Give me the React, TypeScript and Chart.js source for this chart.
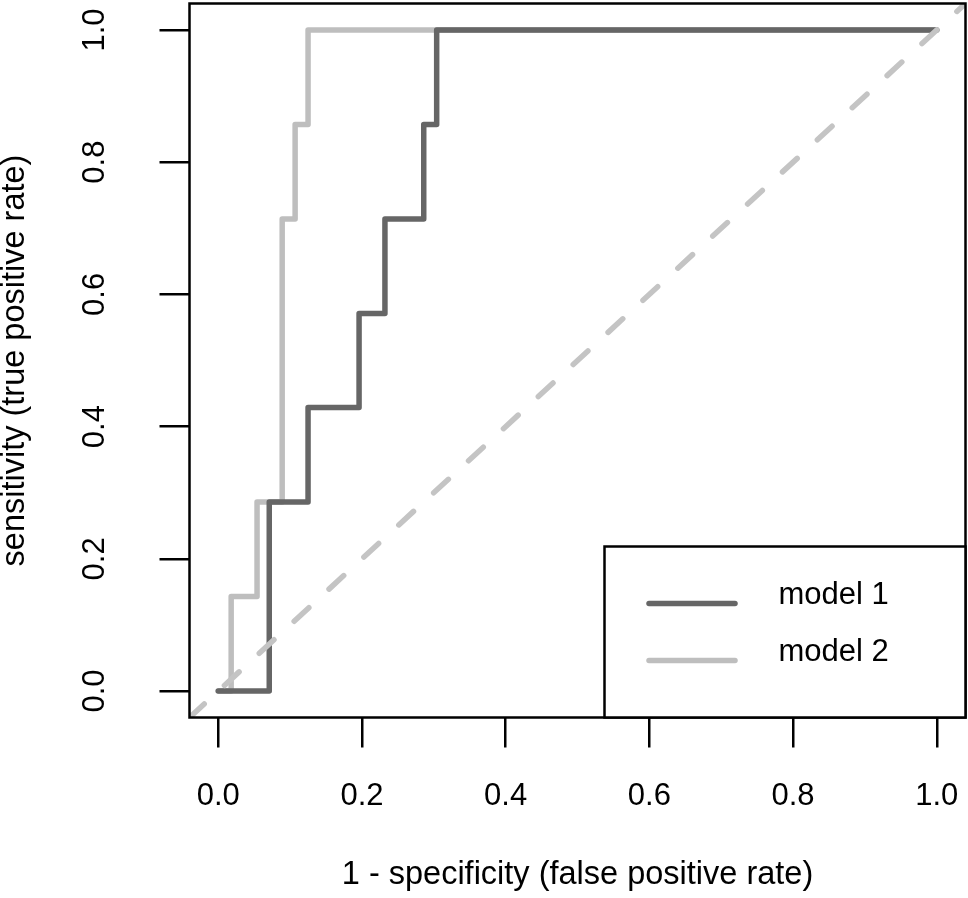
import { useEffect, useRef } from 'react';
import { Chart, registerables } from 'chart.js';

Chart.register(...registerables);

// ---- data ----
const SERIES_NAMES = ['model 1', 'model 2'];
const SERIES_COLORS = ['#666666', '#bebebe'];
const DIAG_COLOR = '#c4c4c4';

// ROC vertices (false positive rate, true positive rate)
const FPR_MODEL_1 = [0, 0.071, 0.125, 0.196, 0.232, 0.286, 0.304, 1.0];
const TPR_MODEL_1 = [0, 0.286, 0.429, 0.571, 0.714, 0.857, 1.0, 1.0];
const FPR_MODEL_2 = [0, 0.018, 0.054, 0.089, 0.107, 0.125, 1.0];
const TPR_MODEL_2 = [0, 0.143, 0.286, 0.714, 0.857, 1.0, 1.0];

const AXIS_MIN = -0.04;
const AXIS_MAX = 1.04;
const TICK_VALUES = [0, 0.2, 0.4, 0.6, 0.8, 1.0];
const TICK_LABELS = ['0.0', '0.2', '0.4', '0.6', '0.8', '1.0'];

const X_TITLE = '1 - specificity (false positive rate)';
const Y_TITLE = 'sensitivity (true positive rate)';

const FONT = 'Liberation Sans';
const FONT_SIZE = 31;
const TITLE_SIZE = 32.5;
const LINE_W = 5.5;

const toPoints = (xs: number[], ys: number[]) => xs.map((x, i) => ({ x, y: ys[i] }));

export default function App() {
  const ref = useRef<HTMLCanvasElement>(null);

  useEffect(() => {
    const canvas = ref.current;
    if (!canvas) return;

    const boxLegendPlugin = {
      id: 'rBoxLegend',
      afterDraw(chart: any) {
        const { ctx, chartArea: a } = chart;
        ctx.save();
        ctx.strokeStyle = '#000';
        ctx.lineWidth = 2.5;
        ctx.strokeRect(a.left, a.top, a.right - a.left, a.bottom - a.top);

        // legend (bottom right)
        const lw = 361;
        const lh = 171;
        const lx = a.right - lw;
        const ly = a.bottom - lh;
        ctx.fillStyle = '#fff';
        ctx.fillRect(lx, ly, lw, lh);
        ctx.strokeRect(lx, ly, lw, lh);
        ctx.font = `${FONT_SIZE}px "${FONT}"`;
        ctx.textAlign = 'left';
        ctx.textBaseline = 'middle';
        SERIES_NAMES.forEach((name, i) => {
          const ds = chart.data.datasets[i];
          const y = ly + 57 + i * 57;
          ctx.strokeStyle = ds.borderColor;
          ctx.lineWidth = LINE_W;
          ctx.lineCap = 'round';
          ctx.beginPath();
          ctx.moveTo(lx + 44.5, y);
          ctx.lineTo(lx + 130.5, y);
          ctx.stroke();
          ctx.fillStyle = '#000';
          ctx.fillText(name, lx + 174, y - 8);
        });
        ctx.restore();
      },
    };

    const tickCfg = {
      color: '#000',
      font: { family: FONT, size: FONT_SIZE },
      callback: (_v: any, i: number) => TICK_LABELS[i],
    };
    const gridCfg = {
      drawOnChartArea: false,
      drawTicks: true,
      tickLength: 30,
      lineWidth: 2.5,
      color: '#000',
    };

    const chart = new Chart(canvas, {
      type: 'line',
      data: {
        datasets: [
          {
            label: SERIES_NAMES[0],
            data: toPoints(FPR_MODEL_1, TPR_MODEL_1),
            borderColor: SERIES_COLORS[0],
            borderWidth: LINE_W,
            stepped: 'before',
            pointRadius: 0,
            borderCapStyle: 'round',
            borderJoinStyle: 'round',
            order: 1,
          },
          {
            label: SERIES_NAMES[1],
            data: toPoints(FPR_MODEL_2, TPR_MODEL_2),
            borderColor: SERIES_COLORS[1],
            borderWidth: LINE_W,
            stepped: 'before',
            pointRadius: 0,
            borderCapStyle: 'round',
            borderJoinStyle: 'round',
            order: 2,
          },
          {
            label: 'chance',
            data: toPoints([AXIS_MIN, AXIS_MAX], [AXIS_MIN, AXIS_MAX]),
            borderColor: DIAG_COLOR,
            borderWidth: LINE_W,
            borderDash: [20, 27.4],
            borderCapStyle: 'round',
            pointRadius: 0,
            order: 0,
          },
        ],
      },
      options: {
        animation: false,
        responsive: false,
        devicePixelRatio: 1,
        layout: { padding: { top: 3.5, right: 2.5, left: 0, bottom: 0 }, autoPadding: false },
        plugins: { legend: { display: false }, tooltip: { enabled: false } },
        scales: {
          x: {
            type: 'linear',
            min: AXIS_MIN,
            max: AXIS_MAX,
            afterBuildTicks: (s: any) => {
              s.ticks = TICK_VALUES.map((v) => ({ value: v }));
            },
            afterFit: (s: any) => {
              s.height = 180.5;
              s.paddingLeft = 0;
              s.paddingRight = 0;
            },
            ticks: { ...tickCfg, padding: 30, maxRotation: 0, minRotation: 0, autoSkip: false },
            grid: gridCfg,
            border: { display: false },
            title: {
              display: true,
              text: X_TITLE,
              color: '#000',
              font: { family: FONT, size: TITLE_SIZE },
              padding: { top: 0, bottom: 3.5 },
            },
          },
          y: {
            type: 'linear',
            min: AXIS_MIN,
            max: AXIS_MAX,
            afterBuildTicks: (s: any) => {
              s.ticks = TICK_VALUES.map((v) => ({ value: v }));
            },
            afterFit: (s: any) => {
              s.width = 189.5;
              s.paddingTop = 0;
              s.paddingBottom = 0;
            },
            ticks: { ...tickCfg, padding: 42, minRotation: 90, maxRotation: 90, crossAlign: 'center', autoSkip: false },
            grid: gridCfg,
            border: { display: false },
            title: {
              display: true,
              text: Y_TITLE,
              color: '#000',
              font: { family: FONT, size: TITLE_SIZE },
              padding: { top: -4.5, bottom: 0 },
            },
          },
        },
      },
      plugins: [boxLegendPlugin],
    } as any);

    return () => chart.destroy();
  }, []);

  return (
    <div style={{ position: 'fixed', left: 0, top: 0, width: 968, height: 898, background: '#fff' }}>
      <canvas ref={ref} width={968} height={898} style={{ display: 'block', width: 968, height: 898 }} />
    </div>
  );
}
